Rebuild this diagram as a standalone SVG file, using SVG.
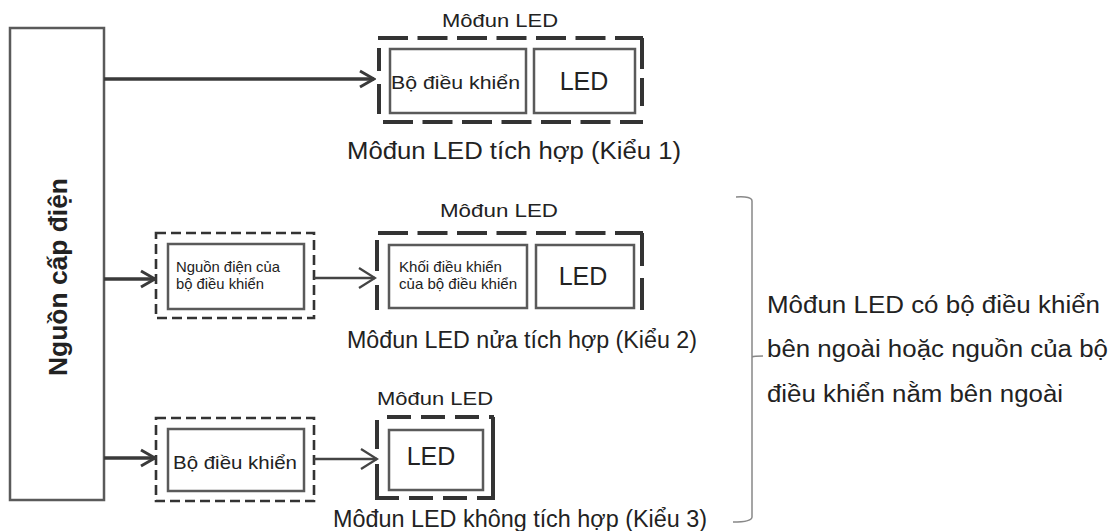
<svg xmlns="http://www.w3.org/2000/svg" width="1117" height="531" viewBox="0 0 1117 531">
<defs>
<style>
text{font-family:"Liberation Sans",Arial,sans-serif;fill:#222}
.box{fill:#fff;stroke:#5a5a5a;stroke-width:2.5}
.thickdash{fill:none;stroke:#333;stroke-width:4}
.hd{stroke-dasharray:30 9.5}
.hd3{stroke-dasharray:24 10}
.thindash{fill:none;stroke:#333;stroke-width:2.6;stroke-dasharray:10 5}
.conn{fill:none;stroke:#3a3a3a;stroke-width:3.5}
.conn2{fill:none;stroke:#444;stroke-width:2.5}
.cap{font-size:23.5px}
.lbl{font-size:19px}
.led{font-size:25px}
.small{font-size:14.5px}
</style>
<marker id="ah" markerUnits="userSpaceOnUse" markerWidth="18" markerHeight="20" viewBox="0 0 18 20" refX="16" refY="10" orient="auto">
<path d="M2,2 L16,10 L2,18" fill="none" stroke="#3a3a3a" stroke-width="3"/>
</marker>
<marker id="ah2" markerUnits="userSpaceOnUse" markerWidth="20" markerHeight="24" viewBox="0 0 20 24" refX="18" refY="12" orient="auto">
<path d="M2,2 L18,12 L2,22" fill="none" stroke="#444" stroke-width="2.3"/>
</marker>
</defs>
<rect width="1117" height="531" fill="#fff"/>

<g id="power-source">
<rect class="box" x="10" y="28" width="94" height="472"/>
<text transform="translate(67,277) rotate(-90)" text-anchor="middle" font-size="25" font-weight="bold" textLength="198" lengthAdjust="spacingAndGlyphs">Nguồn cấp điện</text>
</g>

<g id="module1">
<text class="lbl" x="500" y="27" text-anchor="middle" textLength="116" lengthAdjust="spacingAndGlyphs">Môđun LED</text>
<path class="thickdash hd" d="M378,38 H643"/>
<path class="thickdash hd" d="M383,122 H643"/>
<path class="thickdash" d="M379,48 V71 M379,84 V114 M642,38 V69 M642,78 V106"/>
<rect class="box" x="390" y="49" width="136" height="64"/>
<rect class="box" x="534" y="49" width="101" height="64"/>
<text class="lbl" x="391" y="89" textLength="129" lengthAdjust="spacingAndGlyphs">Bộ điều khiển</text>
<text class="led" x="584" y="90" text-anchor="middle">LED</text>
<text class="cap" x="347" y="159" textLength="334" lengthAdjust="spacingAndGlyphs">Môđun LED tích hợp (Kiểu 1)</text>
</g>

<g id="controller-power-2">
<rect class="thindash" x="156" y="233" width="158" height="85"/>
<rect class="box" x="168" y="244" width="136" height="65"/>
<text class="small" x="176" y="272" textLength="104" lengthAdjust="spacingAndGlyphs">Nguồn điện của</text>
<text class="small" x="176" y="289" textLength="88" lengthAdjust="spacingAndGlyphs">bộ điều khiển</text>
</g>

<g id="module2">
<text class="lbl" x="499" y="217" text-anchor="middle" textLength="118" lengthAdjust="spacingAndGlyphs">Môđun LED</text>
<path class="thickdash hd" d="M378,233 H643"/>
<path class="thickdash" d="M377,240 V271 M377,285 V310 M642,233 V266 M642,278 V310"/>
<rect class="box" x="389" y="245" width="138" height="63"/>
<rect class="box" x="536" y="245" width="98" height="63"/>
<text class="small" x="399" y="272" textLength="103" lengthAdjust="spacingAndGlyphs">Khối điều khiển</text>
<text class="small" x="399" y="289" textLength="118" lengthAdjust="spacingAndGlyphs">của bộ điều khiển</text>
<text class="led" x="583" y="285" text-anchor="middle">LED</text>
<text class="cap" x="347" y="348" textLength="350" lengthAdjust="spacingAndGlyphs">Môđun LED nửa tích hợp (Kiểu 2)</text>
</g>

<g id="controller-3">
<rect class="thindash" x="156" y="418" width="158" height="83"/>
<rect class="box" x="168" y="429" width="136" height="62"/>
<text class="lbl" x="173" y="469" textLength="124" lengthAdjust="spacingAndGlyphs">Bộ điều khiển</text>
</g>

<g id="module3">
<text class="lbl" x="435" y="405" text-anchor="middle" textLength="116" lengthAdjust="spacingAndGlyphs">Môđun LED</text>
<path class="thickdash hd3" d="M387,417 H494"/>
<path class="thickdash hd3" d="M375,498 H494"/>
<path class="thickdash" d="M377,420 V449 M377,464 V500 M493,417 V500"/>
<rect class="box" x="389" y="430" width="94" height="60"/>
<text class="led" x="431" y="465" text-anchor="middle">LED</text>
<text class="cap" x="333" y="527" textLength="374" lengthAdjust="spacingAndGlyphs">Môđun LED không tích hợp (Kiểu 3)</text>
</g>

<g id="group-note">
<path d="M736,197 Q752,196 752,201 V517 Q752,522 733,522 M752,357 Q754,356 763,356" fill="none" stroke="#888" stroke-width="1.5"/>
<text class="cap" x="767" y="313" textLength="333" lengthAdjust="spacingAndGlyphs">Môđun LED có bộ điều khiển</text>
<text class="cap" x="767" y="357" textLength="341" lengthAdjust="spacingAndGlyphs">bên ngoài hoặc nguồn của bộ</text>
<text class="cap" x="767" y="402" textLength="296" lengthAdjust="spacingAndGlyphs">điều khiển nằm bên ngoài</text>
</g>

<g id="connectors">
<path class="conn" d="M104,79 H374" marker-end="url(#ah)"/>
<path class="conn" d="M104,279 H155" marker-end="url(#ah)"/>
<path class="conn" d="M104,458 H155" marker-end="url(#ah)"/>
<path class="conn2" d="M314,278 H375" marker-end="url(#ah2)"/>
<path class="conn2" d="M314,459 H377" marker-end="url(#ah2)"/>
</g>
</svg>
